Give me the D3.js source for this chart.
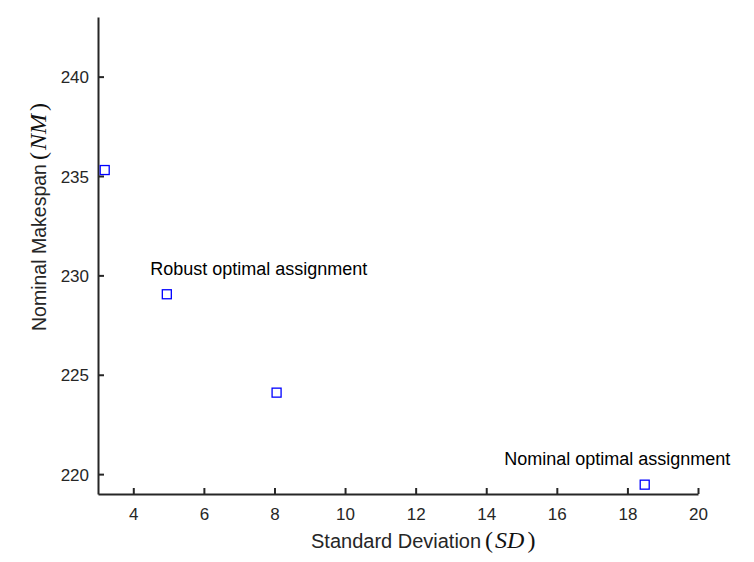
<!DOCTYPE html>
<html>
<head>
<meta charset="utf-8">
<script src="https://cdnjs.cloudflare.com/ajax/libs/d3/7.8.5/d3.min.js"></script>
<style>
  html, body { margin: 0; padding: 0; background: #fff; }
  text { font-family: "Liberation Sans", Arial, Helvetica, sans-serif; }
</style>
</head>
<body>
<svg id="chart" width="754" height="562"></svg>
<script>
// Data
const sdValues = [3.19, 4.95, 8.06, 18.49];
const nmValues = [235.3, 229.05, 224.1, 219.47];
const xTicks = [4, 6, 8, 10, 12, 14, 16, 18, 20];
const yTicks = [220, 225, 230, 235, 240];
const annotationTexts = ["Robust optimal assignment", "Nominal optimal assignment"];
const annotationX = [4.48, 14.51];
const annotationY = [230.02, 220.48];

const W = 754, H = 562;
const margin = { left: 98, right: 56, top: 17, bottom: 68 };
const svg = d3.select("#chart");
const axisColor = "#262626";
const serif = "'Liberation Serif', 'DejaVu Serif', serif";

const x = d3.scaleLinear().domain([3, 20]).range([margin.left, W - margin.right]);
const y = d3.scaleLinear().domain([219, 243]).range([H - margin.bottom, margin.top]);

// X axis
const gx = svg.append("g")
  .attr("transform", `translate(0,${H - margin.bottom})`)
  .call(d3.axisBottom(x).tickValues(xTicks).tickSizeInner(-6).tickSizeOuter(0).tickPadding(0).tickFormat(d3.format("d")));
gx.select(".domain").attr("stroke", axisColor).attr("stroke-width", 2);
gx.selectAll(".tick line").attr("stroke", axisColor).attr("stroke-width", 2);
gx.selectAll(".tick text")
  .attr("fill", axisColor).attr("font-size", 17)
  .attr("y", 26).attr("dy", null)
  .style("font-family", "'Liberation Sans', Arial, sans-serif");

// Y axis
const gy = svg.append("g")
  .attr("transform", `translate(${margin.left},0)`)
  .call(d3.axisLeft(y).tickValues(yTicks).tickSizeInner(-6).tickSizeOuter(0).tickPadding(9).tickFormat(d3.format("d")));
gy.select(".domain").attr("stroke", axisColor).attr("stroke-width", 2);
gy.selectAll(".tick line").attr("stroke", axisColor).attr("stroke-width", 2);
gy.selectAll(".tick text")
  .attr("fill", axisColor).attr("font-size", 17)
  .attr("x", -9).attr("dy", "0.36em")
  .style("font-family", "'Liberation Sans', Arial, sans-serif");

// Points
const s = 9;
svg.append("g").selectAll("rect")
  .data(sdValues.map((v, i) => ({ x: v, y: nmValues[i] })))
  .join("rect")
  .attr("x", d => x(d.x) - s / 2)
  .attr("y", d => y(d.y) - s / 2)
  .attr("width", s).attr("height", s)
  .attr("fill", "none")
  .attr("stroke", "#0000ff")
  .attr("stroke-width", 1.3);

// Annotations
svg.append("g").selectAll("text")
  .data(annotationTexts.map((t, i) => ({ t, x: annotationX[i], y: annotationY[i] })))
  .join("text")
  .attr("x", d => x(d.x))
  .attr("y", d => y(d.y))
  .attr("font-size", 18)
  .attr("fill", "#000")
  .text(d => d.t);

function mathLabel(sel, word) {
  sel.append("tspan").attr("dx", 4).style("font-family", serif).attr("font-size", 24).attr("fill", "#111").text("(");
  sel.append("tspan").attr("dx", 2).style("font-family", serif).attr("font-style", "italic").attr("font-size", 24).attr("fill", "#111").text(word);
  sel.append("tspan").attr("dx", 3).style("font-family", serif).attr("font-size", 24).attr("fill", "#111").text(")");
}

// X title
const xt = svg.append("text")
  .attr("x", 311).attr("y", 548)
  .attr("fill", axisColor)
  .attr("font-size", 20);
xt.append("tspan").text("Standard Deviation");
mathLabel(xt, "SD");

// Y title
const yt = svg.append("text")
  .attr("transform", "translate(46,331) rotate(-90)")
  .attr("fill", axisColor)
  .attr("font-size", 19.5);
yt.append("tspan").text("Nominal Makespan");
mathLabel(yt, "NM");
</script>
</body>
</html>
